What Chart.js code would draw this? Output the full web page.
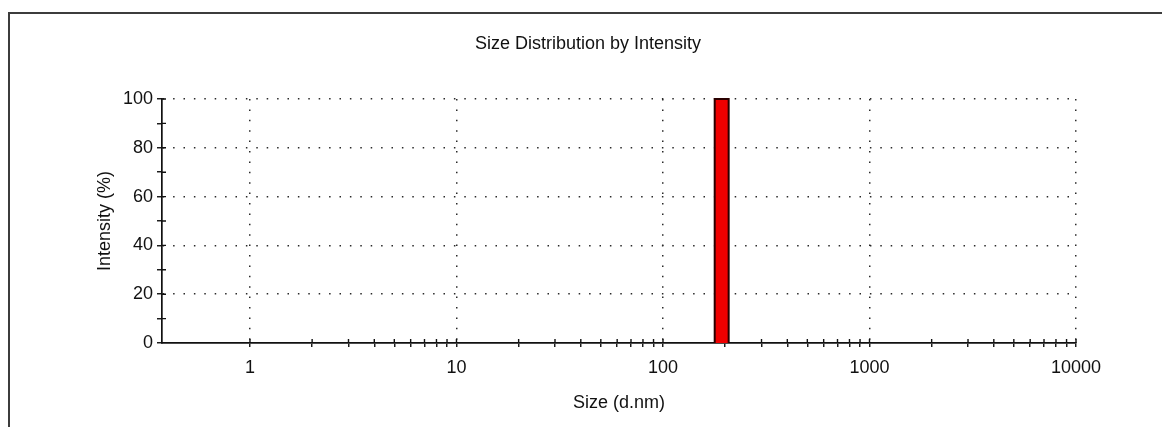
<!DOCTYPE html>
<html><head><meta charset="utf-8">
<script src="https://cdn.jsdelivr.net/npm/chart.js@4"></script>
<style>
html,body{margin:0;padding:0;background:#fff;overflow:hidden;}
#wrap{position:relative;width:1162px;height:427px;}
#frame{position:absolute;left:8px;top:12px;right:0;bottom:0;border-top:2px solid #3c3c3c;border-left:2px solid #3c3c3c;pointer-events:none;}
</style></head><body>
<div id="wrap"><canvas id="c" width="1162" height="427"></canvas><div id="frame"></div></div>
<script>
// ---- data ----
const sizeBinEdges = [178, 208];          // nm, edges of the single size bin
const intensityPct = [100];               // % intensity per bin
const xDecadeTicks = [1, 10, 100, 1000, 10000];
const yLabelTicks = [0, 20, 40, 60, 80, 100];
const xRange = [0.375, 10000];
const yRange = [0, 100];

// ---- derived ----
const barPoints = [];
intensityPct.forEach((v, i) => {
  const a = sizeBinEdges[i], b = sizeBinEdges[i + 1];
  barPoints.push({x: a, y: 0}, {x: a, y: v}, {x: b, y: v}, {x: b, y: 0});
});
const xAllTicks = [];
xDecadeTicks.forEach((d, i) => {
  xAllTicks.push(d);
  if (i < xDecadeTicks.length - 1) for (let m = 2; m <= 9; m++) xAllTicks.push(d * m);
});

const FAM = "'Liberation Sans', Arial, sans-serif";
const font = {family: FAM, size: 18, weight: 'normal', lineHeight: 1.2};
const DOT = '#2a2a2a';
const NONE = 'rgba(0,0,0,0)';

const innerTicks = {
  id: 'innerTicks',
  beforeDatasetsDraw(chart) {
    const {ctx, scales: {x, y}} = chart;
    ctx.save();
    ctx.strokeStyle = '#111';
    ctx.lineWidth = 1.4;
    ctx.beginPath();
    x.ticks.forEach(t => {
      const px = x.getPixelForValue(t.value);
      ctx.moveTo(px, x.top); ctx.lineTo(px, x.top - 4);
    });
    y.ticks.forEach(t => {
      if (t.value === 0) return;
      const py = y.getPixelForValue(t.value);
      ctx.moveTo(y.right, py); ctx.lineTo(y.right + 4, py);
    });
    ctx.stroke();
    ctx.restore();
  }
};

new Chart(document.getElementById('c'), {
  type: 'line',
  data: {
    datasets: [{
      data: barPoints,
      borderColor: '#2a0000',
      borderWidth: 2,
      backgroundColor: '#f00000',
      fill: 'origin',
      pointRadius: 0,
      tension: 0,
      clip: false,
      borderJoinStyle: 'miter'
    }]
  },
  options: {
    responsive: false,
    devicePixelRatio: 1,
    animation: false,
    layout: {padding: {left: 14, right: 0, top: 0, bottom: 0}},
    plugins: {
      legend: {display: false},
      tooltip: {enabled: false},
      title: {
        display: true,
        text: 'Size Distribution by Intensity',
        color: '#111',
        font: font,
        padding: {top: 33, bottom: 44.4}
      }
    },
    scales: {
      x: {
        type: 'logarithmic',
        position: 'bottom',
        min: xRange[0], max: xRange[1],
        afterBuildTicks: s => { s.ticks = xAllTicks.map(v => ({value: v})); },
        afterFit: s => { s.height = 84; },
        ticks: {
          autoSkip: false, maxRotation: 0, minRotation: 0, padding: 10,
          color: '#111', font: font,
          callback: v => xDecadeTicks.includes(v) ? String(v) : ''
        },
        grid: {
          color: c => (c.tick && xDecadeTicks.includes(c.tick.value)) ? DOT : NONE,
          lineWidth: 1.5, tickLength: 4, tickColor: '#111', tickWidth: 1.4
        },
        border: {display: true, color: '#111', width: 1.7, dash: [1.5, 8.9]},
        title: {display: true, text: 'Size (d.nm)', color: '#111', font: font, padding: {top: 0, bottom: 13}}
      },
      y: {
        type: 'linear',
        position: 'left',
        min: yRange[0], max: yRange[1],
        afterFit: s => { s.width = 148; },
        ticks: {
          stepSize: 10, padding: 4, autoSkip: false, color: '#111', font: font,
          callback: v => yLabelTicks.includes(v) ? String(v) : ''
        },
        grid: {
          color: c => (c.tick && c.tick.value > 0 && yLabelTicks.includes(c.tick.value)) ? DOT : NONE,
          lineWidth: 1.5, tickLength: 5, tickColor: '#111', tickWidth: 1.4
        },
        border: {display: true, color: '#111', width: 1.7, dash: [1.5, 8.9]},
        title: {display: true, text: 'Intensity (%)', color: '#111', font: font, padding: {top: 80, bottom: 0}}
      },
      y2: {
        type: 'linear',
        position: 'right',
        display: true,
        afterFit: s => { s.width = 86; },
        grid: {display: false, drawOnChartArea: false},
        ticks: {display: false},
        border: {display: false}
      }
    }
  },
  plugins: [innerTicks]
});
</script>
</body></html>
